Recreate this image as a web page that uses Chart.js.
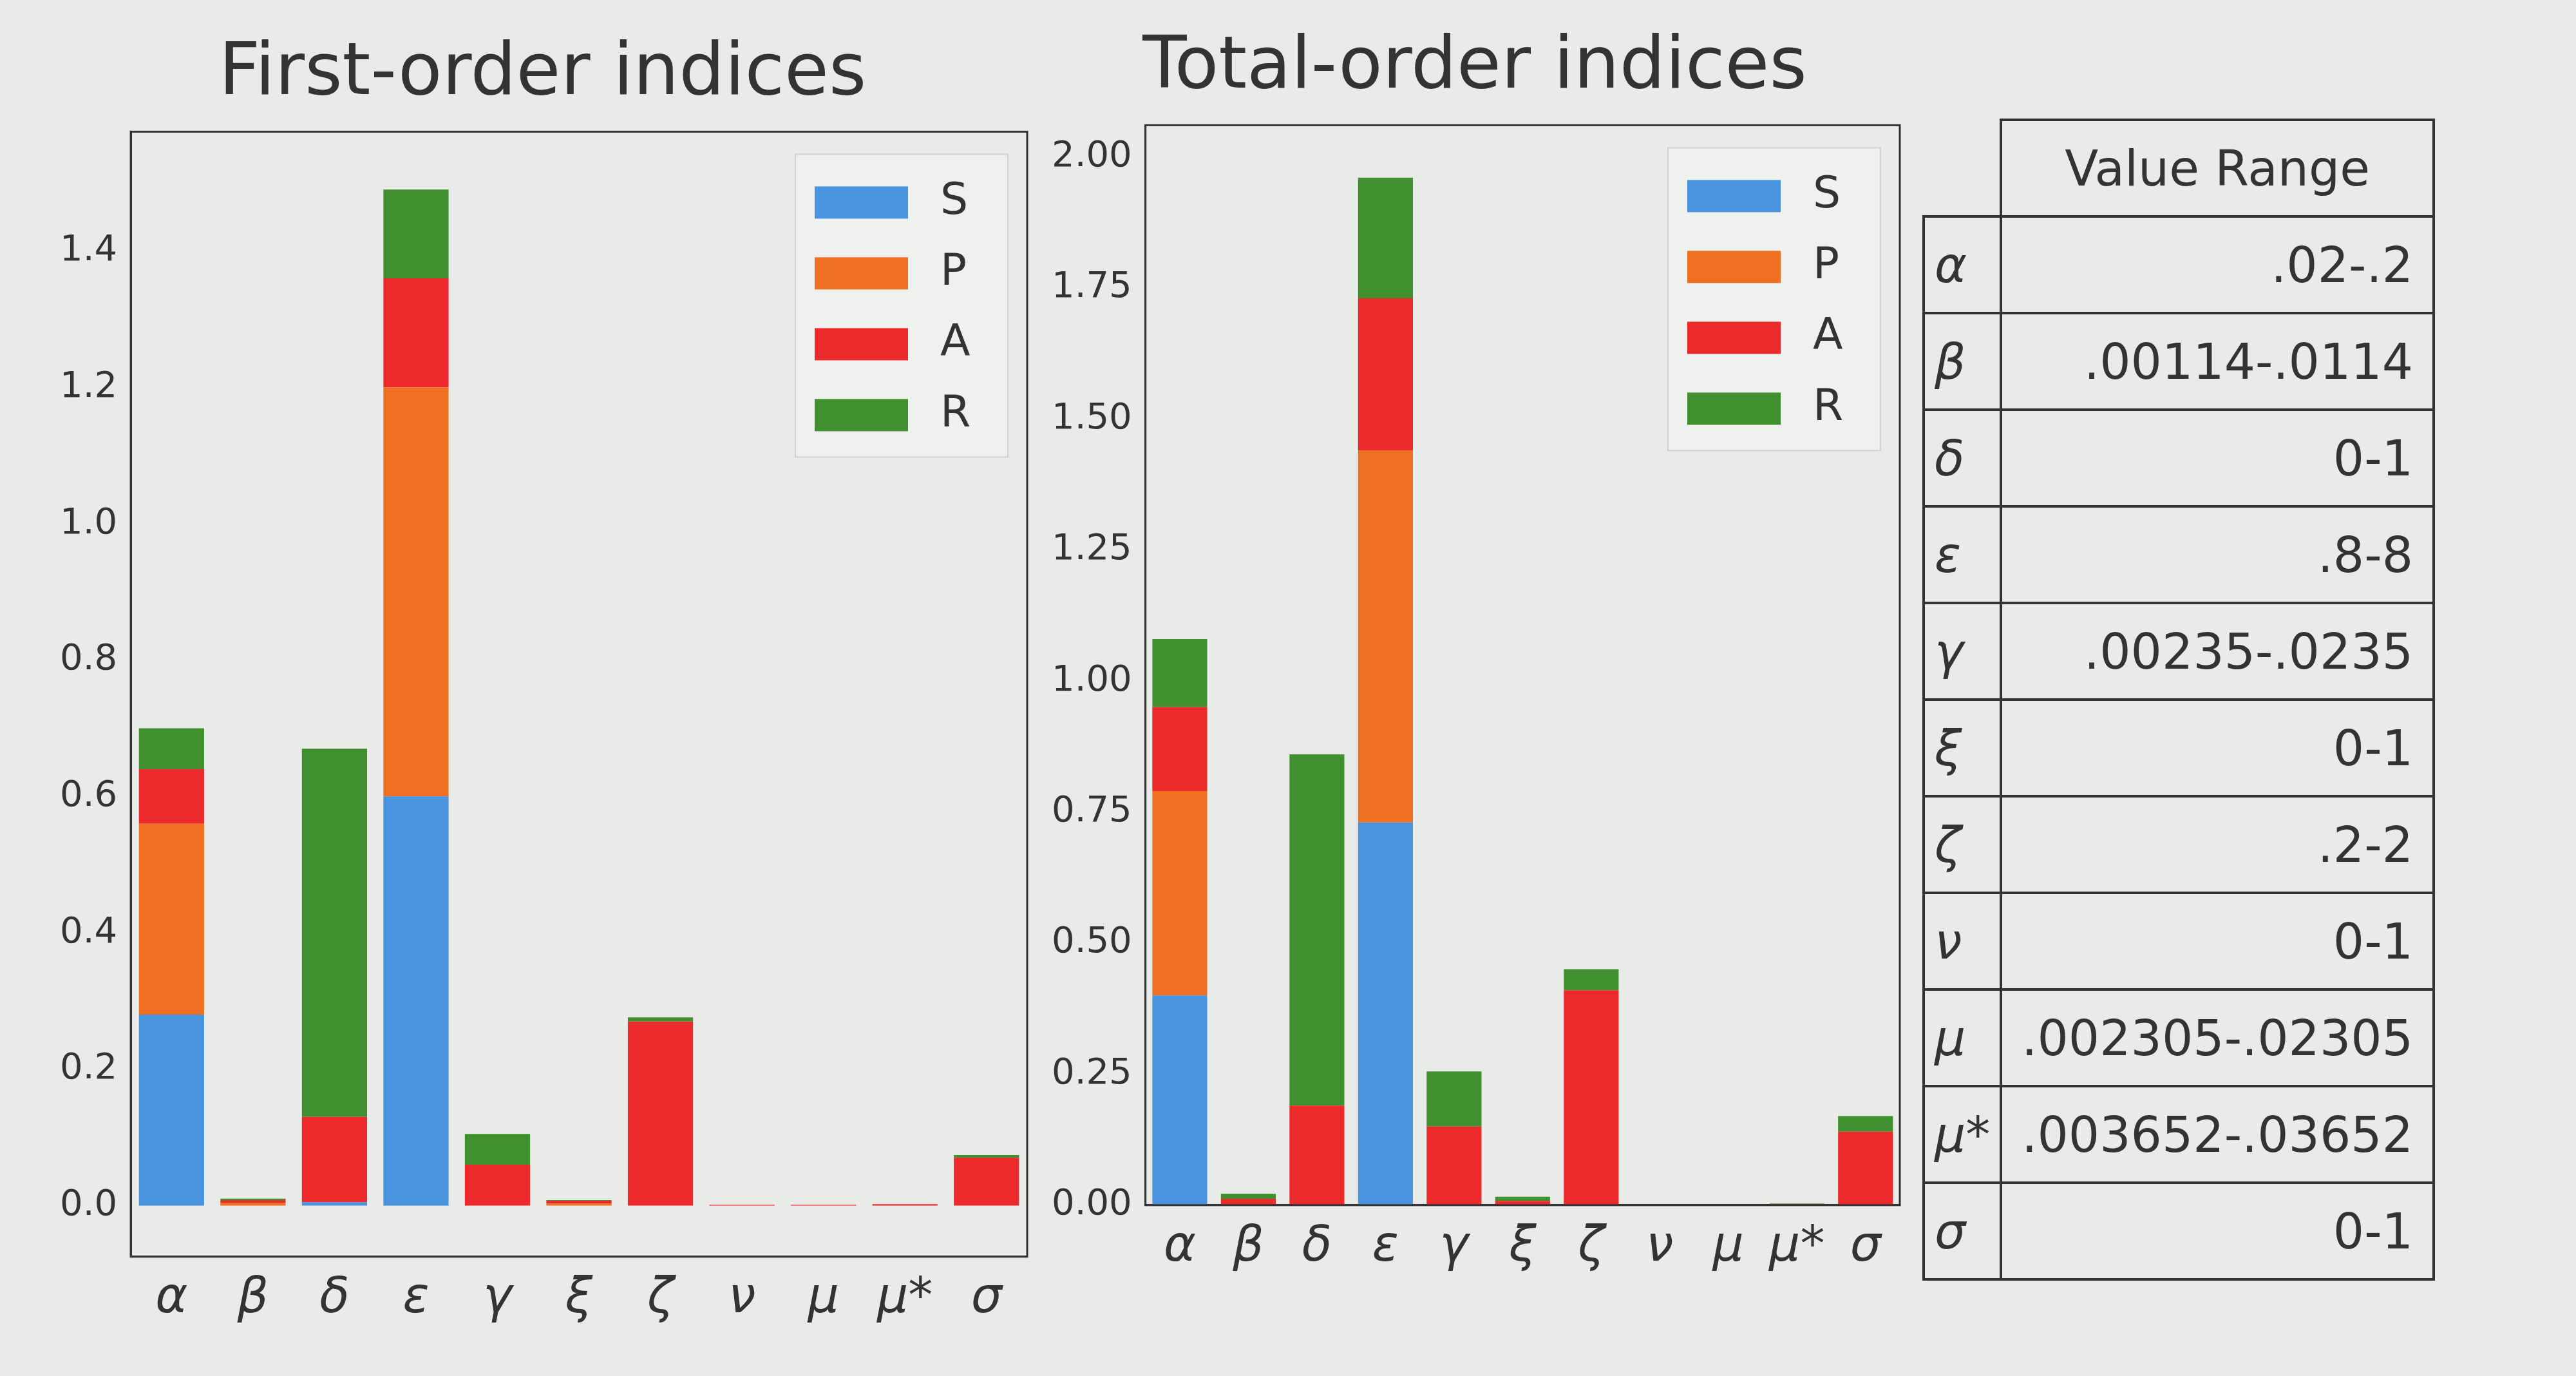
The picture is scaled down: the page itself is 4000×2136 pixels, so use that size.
<!DOCTYPE html>
<html>
<head>
<meta charset="UTF-8">
<script src="https://cdn.jsdelivr.net/npm/chart.js"></script>
<style>
  body { margin: 0; width: 4000px; height: 2136px; background: #e8ebe7; position: relative; overflow: hidden; font-family: 'DejaVu Sans', sans-serif; }
  canvas { position: absolute; top: 0; }
  table { position: absolute; left: 2985px; top: 184px; border-collapse: collapse; font-size: 76px; color: #333; }
  td { border: 4px solid #333; height: 146px; padding: 0 30px; text-align: right; }
  td.p { width: 55px; text-align: left; font-style: italic; padding: 0 15px; }
  tr.h td.p { border: none; }
  tr.h td { text-align: center; }
</style>
</head>
<body>
<canvas id="first" width="1640" height="2136" style="left:0"></canvas>
<canvas id="total" width="1380" height="2136" style="left:1600px"></canvas>
<table id="tbl"></table>
<script>
const params = ['α', 'β', 'δ', 'ε', 'γ', 'ξ', 'ζ', 'ν', 'μ', 'μ*', 'σ'];
const ranges = ['.02-.2', '.00114-.0114', '0-1', '.8-8', '.00235-.0235', '0-1', '.2-2', '0-1', '.002305-.02305', '.003652-.03652', '0-1'];
const seriesNames = ['S', 'P', 'A', 'R'];
const colors = ['#4a93df', '#ef7022', '#ec2a2c', '#40902f'];

// first-order indices
const firstS = [0.28, 0.000, 0.005, 0.60, 0.000, 0.000, 0.000, 0.000, 0.000, 0.000, 0.000];
const firstP = [0.28, 0.004, 0.000, 0.60, 0.000, 0.003, 0.000, 0.000, 0.000, 0.000, 0.000];
const firstA = [0.08, 0.004, 0.125, 0.16, 0.060, 0.004, 0.270, 0.001, 0.001, 0.002, 0.070];
const firstR = [0.06, 0.002, 0.540, 0.13, 0.045, 0.001, 0.006, 0.000, 0.000, 0.000, 0.004];
const firstTicks = [0.0, 0.2, 0.4, 0.6, 0.8, 1.0, 1.2, 1.4];

// total-order indices
const totalS = [0.40, 0.000, 0.000, 0.73, 0.000, 0.000, 0.000, 0.000, 0.000, 0.000, 0.000];
const totalP = [0.39, 0.000, 0.000, 0.71, 0.000, 0.000, 0.000, 0.000, 0.000, 0.000, 0.000];
const totalA = [0.16, 0.012, 0.190, 0.29, 0.150, 0.008, 0.410, 0.001, 0.001, 0.002, 0.140];
const totalR = [0.13, 0.010, 0.670, 0.23, 0.105, 0.008, 0.040, 0.000, 0.000, 0.001, 0.030];
const totalTicks = [0.00, 0.25, 0.50, 0.75, 1.00, 1.25, 1.50, 1.75, 2.00];

const tbl = document.getElementById('tbl');
tbl.innerHTML = '<tr class="h"><td class="p"></td><td>Value Range</td></tr>' +
  params.map((p, i) => `<tr><td class="p">${p}</td><td>${ranges[i]}</td></tr>`).join('');

const frameAndLegend = {
  id: 'frameAndLegend',
  afterDraw(chart) {
    const { ctx, chartArea: a } = chart;
    ctx.save();
    ctx.strokeStyle = '#333';
    ctx.lineWidth = 3;
    ctx.strokeRect(a.left, a.top, a.right - a.left, a.bottom - a.top);
    // legend box in the top right corner
    const w = 330, h = 470, x = a.right - w - 30, y = a.top + 35;
    ctx.fillStyle = 'rgba(240,242,239,0.9)';
    ctx.strokeStyle = '#d0d3cf';
    ctx.lineWidth = 2;
    ctx.fillRect(x, y, w, h);
    ctx.strokeRect(x, y, w, h);
    ctx.font = '68px "DejaVu Sans"';
    ctx.textBaseline = 'middle';
    seriesNames.forEach((n, i) => {
      const cy = y + 75 + i * 110;
      ctx.fillStyle = colors[i];
      ctx.fillRect(x + 30, cy - 25, 145, 50);
      ctx.fillStyle = '#333';
      ctx.fillText(n, x + 225, cy);
    });
    ctx.restore();
  }
};

function makeChart(id, title, data, ticks, ymin, ymax, digits, pad) {
  new Chart(document.getElementById(id), {
    type: 'bar',
    data: {
      labels: params,
      datasets: seriesNames.map((n, i) => ({
        label: n, data: data[i], backgroundColor: colors[i],
        barPercentage: 0.8, categoryPercentage: 1.0
      }))
    },
    options: {
      responsive: false, animation: false, devicePixelRatio: 1,
      layout: { padding: pad },
      plugins: {
        legend: { display: false },
        tooltip: { enabled: false },
        title: { display: true, text: title, color: '#333', font: { family: 'DejaVu Sans', size: 112, weight: 'normal' }, padding: { top: 0, bottom: 20 } }
      },
      scales: {
        x: {
          stacked: true,
          grid: { display: false, drawTicks: true, tickLength: 18, tickColor: '#333' },
          border: { color: '#333', width: 3 },
          ticks: { color: '#333', font: { family: 'DejaVu Sans', size: 76, style: 'italic' }, maxRotation: 0, autoSkip: false }
        },
        y: {
          stacked: true, min: ymin, max: ymax,
          afterBuildTicks: s => { s.ticks = ticks.map(v => ({ value: v })); },
          grid: { display: false, drawTicks: true, tickLength: 18, tickColor: '#333' },
          border: { color: '#333', width: 3 },
          ticks: { color: '#333', font: { family: 'DejaVu Sans', size: 56 }, callback: v => v.toFixed(digits) }
        }
      }
    },
    plugins: [frameAndLegend]
  });
}

makeChart('first', 'First-order indices', [firstS, firstP, firstA, firstR], firstTicks, -0.075, 1.575, 1,
  { left: 90, right: 45, top: 50, bottom: 70 });
makeChart('total', 'Total-order indices', [totalS, totalP, totalA, totalR], totalTicks, 0, 2.06, 2,
  { left: 30, right: 30, top: 40, bottom: 150 });
</script>
</body>
</html>
